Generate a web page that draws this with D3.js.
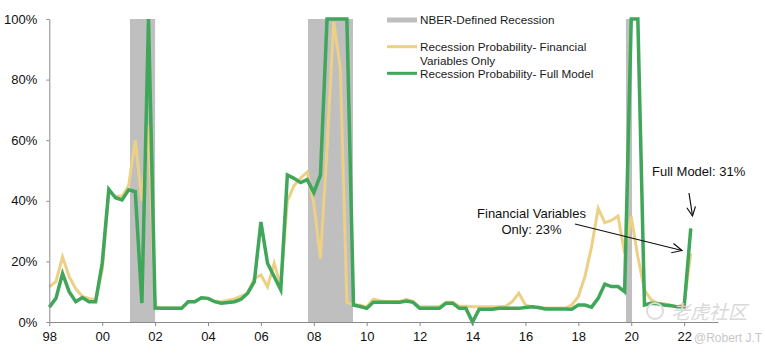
<!DOCTYPE html>
<html>
<head>
<meta charset="utf-8">
<script src="https://cdn.jsdelivr.net/npm/d3@7"></script>
<style>
  html, body { margin: 0; padding: 0; background: #fff; }
  svg { display: block; font-family: "Liberation Sans", Arial, sans-serif; }
</style>
</head>
<body>
<svg id="chart" width="765" height="356"></svg>
<script>
// ---- Data (quarterly, starting 1998 Q1) ----
const startYear = 1998;
const fullModel = [
  4.9, 7.8, 16, 10,
  6.7, 8.1, 6.7, 6.7,
  19.4, 43.8, 41, 40.3,
  43.6, 43, 6.2, 100,
  4.6, 4.5, 4.5, 4.5,
  4.5, 6.7, 6.7, 8,
  7.8, 6.7, 6.2, 6.4,
  6.7, 7.5, 9.5, 13.3,
  33, 19.4, 15, 10.6,
  48.5, 47.4, 46, 47,
  42.7, 48.5, 100, 100,
  100, 100, 5.6, 5.1,
  4.5, 6.5, 6.5, 6.5,
  6.5, 6.5, 6.9, 6.5,
  4.5, 4.5, 4.5, 4.5,
  6.2, 6.2, 4.5, 4.5,
  0, 4.2, 4.2, 4.2,
  4.5, 4.5, 4.5, 4.5,
  4.8, 5, 4.8, 4.3,
  4.3, 4.3, 4.3, 4.2,
  5.6, 5.6, 4.9, 7.8,
  12.5, 11.7, 11.7, 10,
  100, 100, 5.6, 6.2,
  6, 5.6, 5.4, 5,
  5, 30.9
];
const financialOnly = [
  11.6, 13.3, 21.5, 15,
  11, 8.4, 7.8, 7.3,
  17, 43, 41.5, 41.5,
  45, 60, 40, 65,
  5, 4.6, 4.6, 4.6,
  4.6, 6.7, 6.7, 8,
  7.8, 6.9, 6.6, 7.2,
  7.6, 8.5, 9.5, 14.4,
  15.5, 11.6, 19.4, 12,
  40, 45, 47.5, 49.5,
  39, 21, 57, 99,
  84, 6.5, 5.8, 5.5,
  5, 7.5, 7, 6.8,
  6.8, 6.8, 7.5, 6.8,
  5, 5, 5, 5,
  6.5, 6.5, 5.2, 5.2,
  5, 5, 5, 5,
  5, 5.2, 6.7, 9.5,
  5.6, 5, 4.6, 4.6,
  4.6, 4.6, 4.6, 5.6,
  8.4, 15, 24.8, 37.5,
  32.8, 33.5, 35, 22.7,
  34.8, 21.5, 10.6, 7.3,
  6.2, 6, 5.5, 5,
  6, 22.7
];
const recessionStart = [2001.05, 2007.78, 2019.8];
const recessionEnd   = [2002.0, 2009.48, 2020.03];
const xTickYears = [1998, 2000, 2002, 2004, 2006, 2008, 2010, 2012, 2014, 2016, 2018, 2020, 2022];
const xTickLabels = ["98", "00", "02", "04", "06", "08", "10", "12", "14", "16", "18", "20", "22"];
const yTicks = [0, 20, 40, 60, 80, 100];
const legendLabels = ["NBER-Defined Recession", "Recession Probability- Financial|Variables Only", "Recession Probability- Full Model"];
const annFull = "Full Model: 31%";
const annFin = ["Financial Variables", "Only: 23%"];

// ---- Layout ----
const svg = d3.select("#chart");
const x = d3.scaleLinear().domain([1998, 2023.28]).range([49.3, 718]);
const y = d3.scaleLinear().domain([0, 100]).range([322, 19]);
const tOf = i => startYear + i / 4;

const green = "#3fa65a", yellow = "#ecd086", band = "#bfbfbf", axisCol = "#8a8a8a";

// Recession bands
svg.append("g").selectAll("rect").data(recessionStart).join("rect")
  .attr("x", (d) => x(d))
  .attr("width", (d, i) => x(recessionEnd[i]) - x(d))
  .attr("y", y(100))
  .attr("height", y(0) - y(100))
  .attr("fill", band);

// Lines
const line = d3.line().x((d, i) => x(tOf(i))).y(d => y(d)).curve(d3.curveLinear);
svg.append("path").datum(financialOnly).attr("d", line)
  .attr("fill", "none").attr("stroke", yellow).attr("stroke-width", 3);
svg.append("path").datum(fullModel).attr("d", line)
  .attr("fill", "none").attr("stroke", green).attr("stroke-width", 3.5);

// Axes
const xAxis = d3.axisBottom(x).tickValues(xTickYears)
  .tickFormat((d, i) => xTickLabels[i]).tickSize(4).tickSizeOuter(0);
const gx = svg.append("g").attr("transform", `translate(0,${y(0)})`).call(xAxis);
gx.select(".domain").attr("stroke", axisCol);
gx.selectAll(".tick line").attr("stroke", axisCol);
gx.selectAll("text").attr("font-size", 13).attr("fill", "#111").attr("dy", "0.95em")
  .attr("font-family", "Liberation Sans, Arial, sans-serif");

const yAxis = d3.axisLeft(y).tickValues(yTicks).tickFormat(d => d + "%")
  .tickSize(3).tickSizeOuter(0);
const gy = svg.append("g").attr("transform", `translate(${x(1998)},0)`).call(yAxis);
gy.select(".domain").attr("stroke", axisCol);
gy.selectAll(".tick line").attr("stroke", axisCol);
gy.selectAll("text").attr("font-size", 13).attr("fill", "#111").attr("x", -12)
  .attr("font-family", "Liberation Sans, Arial, sans-serif");

// Legend
const lg = svg.append("g").attr("font-size", 11.7).attr("fill", "#1a1a1a");
lg.append("rect").attr("x", 387).attr("y", 17.5).attr("width", 30).attr("height", 5).attr("fill", band);
lg.append("text").attr("x", 420).attr("y", 24).text(legendLabels[0]);
lg.append("line").attr("x1", 387).attr("x2", 417).attr("y1", 46.7).attr("y2", 46.7)
  .attr("stroke", yellow).attr("stroke-width", 3);
const l2 = legendLabels[1].split("|");
lg.append("text").attr("x", 420).attr("y", 51).text(l2[0]);
lg.append("text").attr("x", 420).attr("y", 64.5).text(l2[1]);
lg.append("line").attr("x1", 387).attr("x2", 417).attr("y1", 73.3).attr("y2", 73.3)
  .attr("stroke", green).attr("stroke-width", 3);
lg.append("text").attr("x", 420).attr("y", 78).text(legendLabels[2]);

// Annotations
const ann = svg.append("g").attr("font-size", 13).attr("fill", "#111");
ann.append("text").attr("x", 652).attr("y", 176).text(annFull);
ann.append("text").attr("x", 531.5).attr("y", 218).attr("text-anchor", "middle").text(annFin[0]);
ann.append("text").attr("x", 531.5).attr("y", 233.5).attr("text-anchor", "middle").text(annFin[1]);

function arrow(x1, y1, x2, y2, head) {
  const a = Math.atan2(y2 - y1, x2 - x1);
  const g = svg.append("g").attr("stroke", "#111").attr("stroke-width", 1.2).attr("fill", "none");
  g.append("line").attr("x1", x1).attr("y1", y1).attr("x2", x2).attr("y2", y2);
  const s = 0.45;
  g.append("path").attr("d",
    `M${x2 - head * Math.cos(a - s)},${y2 - head * Math.sin(a - s)} L${x2},${y2} L${x2 - head * Math.cos(a + s)},${y2 - head * Math.sin(a + s)}`);
}
arrow(689, 193, 692.5, 216, 10);
arrow(575, 224, 682, 250.5, 11);

// Watermark
const wm = svg.append("g").attr("fill", "#d9d9d9");
wm.append("circle").attr("cx", 655).attr("cy", 311).attr("r", 8).attr("fill", "none")
  .attr("stroke", "#dcdcdc").attr("stroke-width", 2);
wm.append("text").attr("x", 671).attr("y", 319).attr("font-size", 19)
  .attr("font-family", "Noto Sans CJK SC, sans-serif").attr("font-style", "italic").text("老虎社区");
wm.append("text").attr("x", 694).attr("y", 342).attr("font-size", 12).attr("fill", "#c8c8c8").text("@Robert J.T");
</script>
</body>
</html>
